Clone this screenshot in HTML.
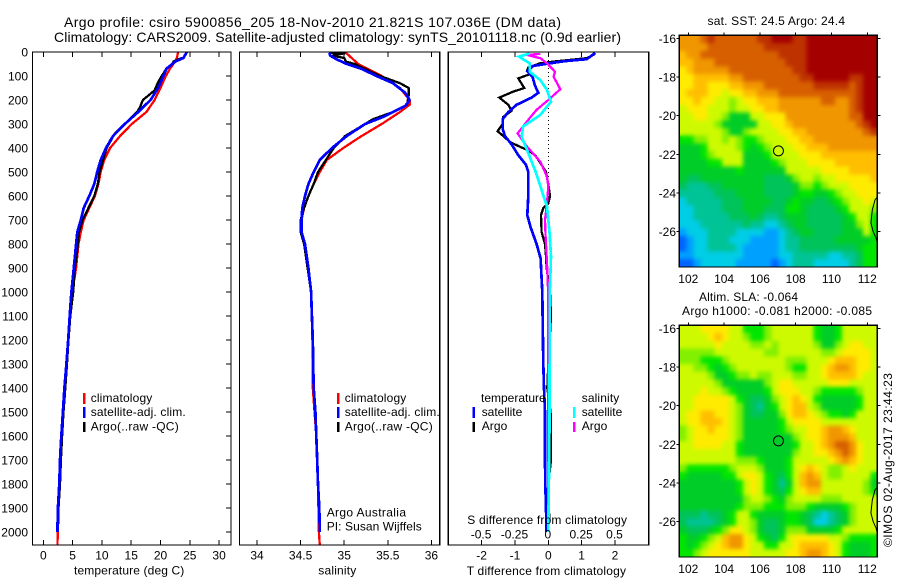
<!DOCTYPE html>
<html>
<head>
<meta charset="utf-8">
<title>Argo profile</title>
<style>
html,body{margin:0;padding:0;background:#fff}
svg{display:block}
text{font-family:"Liberation Sans",sans-serif;font-size:12px;fill:#000}
</style>
</head>
<body>
<svg id="chart" xmlns="http://www.w3.org/2000/svg" width="900" height="580" viewBox="0 0 900 580">
<defs>
<filter id="mapSmooth" x="-5%" y="-5%" width="110%" height="110%" color-interpolation-filters="sRGB">
<feGaussianBlur in="SourceGraphic" stdDeviation="2.2" result="soft"/>
<feMerge><feMergeNode in="SourceGraphic"/><feMergeNode in="soft"/></feMerge>
</filter>
<clipPath id="sstClip"><rect x="679.3" y="35.3" width="198" height="231.7"/></clipPath>
<clipPath id="slaClip"><rect x="679.3" y="325.3" width="198" height="231.7"/></clipPath>
</defs>
<rect x="0" y="0" width="900" height="580" fill="#fff"/>
<g id="marks"></g>
<text x="64" y="27" textLength="497" style="font-size:14px">Argo profile: csiro 5900856_205 18-Nov-2010 21.821S 107.036E (DM data)</text>
<text x="54" y="42" textLength="567" style="font-size:14px">Climatology: CARS2009. Satellite-adjusted climatology: synTS_20101118.nc (0.9d earlier)</text>
<text x="74" y="574.5" textLength="110.3">temperature (deg C)</text>
<text x="318.3" y="574.5" textLength="38">salinity</text>
<text x="466.7" y="575" textLength="159.3">T difference from climatology</text>
<text x="467.3" y="524" textLength="159.7">S difference from climatology</text>
<text x="90.7" y="402" textLength="61.6">climatology</text>
<text x="90.7" y="416" textLength="95">satellite-adj. clim.</text>
<text x="90.7" y="430.5" textLength="88">Argo(..raw -QC)</text>
<text x="344.7" y="402" textLength="61.6">climatology</text>
<text x="344.7" y="416" textLength="95">satellite-adj. clim.</text>
<text x="344.7" y="430.5" textLength="88">Argo(..raw -QC)</text>
<text x="326.7" y="516.5" textLength="79.3">Argo Australia</text>
<text x="326.7" y="530.5" textLength="95">PI: Susan Wijffels</text>
<text x="481" y="402" textLength="64.7">temperature</text>
<text x="481.7" y="416" textLength="40.6">satellite</text>
<text x="481.7" y="430" textLength="25.6">Argo</text>
<text x="581.7" y="402" textLength="37.6">salinity</text>
<text x="581.7" y="416" textLength="40.6">satellite</text>
<text x="581.7" y="430" textLength="25.6">Argo</text>
<text x="707.5" y="25" textLength="137.5">sat. SST: 24.5 Argo: 24.4</text>
<text x="699" y="301" textLength="99">Altim. SLA: -0.064</text>
<text x="682" y="315" textLength="190">Argo h1000: -0.081 h2000: -0.085</text>
<text transform="translate(892,547) rotate(-90)" textLength="174">©IMOS 02-Aug-2017 23:44:23</text>
</svg>
<script>
// ---------- temperature profile data (deg C) ----------
const tempClimDepth = [0,25,40,70,100,150,200,250,300,350,400,450,500,550,600,650,700,750,800,900,1000,1100,1200,1300,1400,1500,1600,1700,1800,1900,2000,2055];
const tempClimValues = [23.0,22.8,22.5,21.6,20.9,20.0,19.0,17.6,15.1,13.1,11.4,10.4,9.8,9.4,8.8,7.85,6.9,6.4,6.0,5.6,4.95,4.55,4.25,3.95,3.6,3.35,3.07,2.85,2.8,2.5,2.5,2.4];
const tempArgoDepth = [25,40,50,70,100,130,160,200,230,250,300,340,400,450,500,550,600,650,700,750,800,900,1000,1100,1200,1300,1400,1500,1600,1700,1800,1900,2000];
const tempArgoValues = [23.6,22.2,22.0,21.0,20.2,19.5,19.0,17.0,16.5,16.0,13.9,12.2,10.8,10.2,9.6,9.3,8.7,7.7,6.7,6.1,5.9,5.4,5.1,4.6,4.3,4.05,3.75,3.45,3.2,3.0,2.85,2.6,2.5];
const tempSatDepth = [0,25,40,70,100,150,200,250,300,350,400,450,500,550,600,650,700,750,800,900,1000,1100,1200,1300,1400,1500,1600,1700,1800,1900,2000];
const tempSatValues = [24.5,23.9,22.5,21.0,20.5,19.6,18.3,16.2,13.9,11.9,10.7,9.8,9.2,8.7,7.85,6.9,6.4,5.8,5.6,5.2,4.8,4.5,4.25,3.95,3.6,3.35,3.07,2.85,2.73,2.5,2.4];
// ---------- salinity profile data ----------
const salClimDepth = [0,50,100,150,200,220,250,300,350,400,450,500,550,600,650,700,750,800,900,1000,1200,1400,1600,1800,2000,2055];
const salClimValues = [35.01,35.16,35.43,35.64,35.75,35.75,35.64,35.43,35.2,34.99,34.8,34.72,34.65,34.59,34.54,34.51,34.51,34.54,34.59,34.62,34.635,34.64,34.68,34.7,34.71,34.72];
const salArgoDepth = [3,5,15,25,40,50,100,130,150,180,220,235,250,280,300,350,400,450,500,550,600,650,700,750,800,900,1000,1200,1400,1600,1800,2000];
const salArgoValues = [34.84,35.01,34.86,35.0,35.02,35.12,35.41,35.64,35.74,35.74,35.72,35.64,35.56,35.33,35.24,35.01,34.88,34.79,34.7,34.65,34.59,34.54,34.5,34.5,34.54,34.58,34.62,34.64,34.65,34.68,34.7,34.72];
const salSatDepth = [3,15,30,50,70,100,130,170,200,225,250,270,300,350,400,450,500,550,600,650,700,750,800,900,1000,1100,1200,1300,1400,1500,1600,1700,1800,1900,2000];
const salSatValues = [34.83,34.84,34.91,35.03,35.2,35.37,35.56,35.7,35.75,35.7,35.56,35.45,35.24,35.03,34.86,34.72,34.65,34.59,34.55,34.52,34.51,34.51,34.55,34.59,34.62,34.63,34.64,34.645,34.65,34.67,34.68,34.69,34.7,34.715,34.72];
// ---------- difference data ----------
const diffTArgoDepth = [8,26,40,47,55,65,75,90,110,150,165,190,220,245,270,300,330,350,375,395,410,430,460,500,550,600,630,650,680,750,800,850,900,1000,1100,1300,1400,1500,1700,1800,1950];
const diffTArgoValues = [1.4,1.15,0.15,-0.25,-0.4,-0.6,-0.63,-0.5,-0.9,-0.72,-1.05,-1.47,-1.2,-1.1,-1.35,-1.37,-1.52,-1.35,-1.15,-0.85,-0.6,-0.4,-0.25,-0.07,0,0.05,0,-0.15,-0.22,-0.2,-0.1,-0.07,-0.05,0.05,0.08,0,-0.03,0.07,0.08,0,0.03];
const diffTSatDepth = [3,10,30,38,47,58,80,105,140,170,190,220,250,280,320,350,385,430,470,500,600,680,730,800,860,1000,1100,1300,1400,1500,1700,1800,1900,2000];
const diffTSatValues = [1.4,1.35,1.15,0.5,0.05,-0.45,-0.63,-0.47,-0.4,-0.3,-0.5,-0.95,-1.2,-1.37,-1.37,-1.3,-1.1,-0.9,-0.67,-0.6,-0.6,-0.63,-0.53,-0.35,-0.23,-0.18,-0.17,-0.15,-0.13,-0.1,-0.1,-0.09,-0.07,-0.05];
const diffSArgoDepth = [8,12,26,47,82,103,155,200,242,276,339,394,457,519,561,631,700,769,880,1019,1300,1600,2000];
const diffSArgoValues = [-0.06,-0.16,-0.06,-0.01,0.05,0.04,0.09,0,-0.09,-0.14,-0.23,-0.16,-0.06,-0.01,0,-0.01,-0.025,-0.02,-0.01,0,0,0,0];
const diffSSatDepth = [6,19,47,82,117,158,207,262,311,353,408,492,575,644,756,853,1019,1300,1600,2000];
const diffSSatValues = [-0.14,-0.22,-0.14,-0.14,-0.06,-0.01,0.02,-0.06,-0.19,-0.2,-0.16,-0.1,-0.05,-0.01,0.01,0.02,0.01,0.01,0.008,0];
// ---------- tick labels ----------
const depthTicks = [0,100,200,300,400,500,600,700,800,900,1000,1100,1200,1300,1400,1500,1600,1700,1800,1900,2000];
const tempTicks = [0,5,10,15,20,25,30];
const salTicks = [34,34.5,35,35.5,36];
const diffTTicks = [-2,-1,0,1,2];
const diffSTicks = [-0.5,-0.25,0,0.25,0.5];
const lonTicks = [102,104,106,108,110,112];
const latTicks = [-16,-18,-20,-22,-24,-26];
const argoLon = 107.036;
const argoLat = -21.821;
const coastLon = [112.56,112.43,112.28,112.2,112.33,112.49,112.56];
const coastLat = [-24.2,-24.36,-24.88,-25.55,-26.0,-26.33,-26.6];
// ---------- SST map cells (colour level 0..14), north to south ----------
const sstGrid = [
[11,11,11,12,13,12,12,12,12,12,12,13,13,14,14,14,13,13,14,14,14,14,14,14,14,14,14,14],
[11,11,11,11,12,12,12,12,12,12,12,12,13,13,13,13,13,13,14,14,14,14,14,14,14,14,14,14],
[10,11,11,12,12,12,12,12,12,12,12,12,12,12,13,13,13,13,14,14,14,14,14,14,14,14,14,14],
[10,10,11,11,11,12,12,12,12,12,12,12,12,12,12,13,13,13,14,14,14,14,14,14,14,14,14,14],
[9,10,11,11,11,11,11,12,12,12,12,12,12,12,12,12,13,13,14,14,14,14,14,14,14,14,14,14],
[9,9,10,10,10,10,10,11,11,12,12,12,12,12,12,12,12,13,13,14,14,14,14,14,13,13,14,14],
[9,9,10,10,9,9,9,10,10,11,11,11,12,12,12,12,12,12,12,13,13,13,13,13,12,13,14,14],
[9,10,10,10,9,9,8,9,9,10,10,11,11,11,12,12,12,12,12,12,12,12,12,12,12,13,14,14],
[9,9,10,9,9,8,8,7,8,9,9,10,10,10,11,11,11,11,11,11,12,12,11,11,12,13,14,14],
[8,9,9,9,8,8,8,7,8,8,9,9,10,10,11,11,11,11,11,11,11,11,11,11,12,13,14,14],
[8,8,9,9,8,8,7,5,5,5,8,8,9,9,9,11,11,11,11,11,11,11,11,11,12,12,14,14],
[8,8,8,8,8,7,5,5,5,5,5,8,8,9,9,10,11,11,11,11,11,11,11,11,11,12,13,14],
[8,8,8,8,8,8,7,5,5,7,8,8,8,8,9,9,10,10,11,11,11,11,11,11,11,11,12,13],
[6,6,7,7,8,8,7,8,7,6,6,7,8,8,8,9,9,10,10,11,11,11,11,11,11,11,11,11],
[5,5,5,6,8,8,8,8,7,6,5,6,7,8,8,8,9,9,10,10,10,11,11,11,11,11,11,11],
[5,5,5,6,7,8,8,8,8,5,5,5,6,8,8,8,8,9,9,9,10,10,10,10,10,10,10,10],
[5,5,5,5,6,6,8,8,8,5,5,5,5,6,7,8,8,8,9,9,9,9,10,10,10,10,10,10],
[5,5,5,5,5,5,5,5,6,5,5,5,5,5,5,8,8,8,8,8,9,9,9,9,10,10,10,10],
[5,4,4,5,5,5,5,5,5,5,5,5,4,4,4,5,7,8,8,7,8,8,9,9,9,9,9,10],
[4,3,3,3,4,4,5,5,5,5,5,5,4,4,4,4,5,7,7,6,7,8,8,8,9,9,9,9],
[3,3,3,3,3,4,4,4,5,5,5,5,4,4,4,4,5,6,6,5,5,6,7,8,8,9,9,9],
[2,3,3,3,3,3,4,4,4,5,5,5,5,4,4,5,6,5,5,4,4,5,6,7,8,8,9,8],
[2,2,3,3,3,3,4,4,4,5,5,5,4,4,4,6,6,5,4,4,4,4,5,6,8,8,8,7],
[2,2,3,3,3,3,3,4,4,4,5,4,3,3,4,5,5,5,4,4,4,4,4,5,6,8,8,6],
[2,2,2,3,3,3,3,3,3,4,3,3,2,2,3,4,5,5,4,4,4,4,4,5,5,7,8,6],
[1,2,2,2,3,3,3,3,2,2,2,2,1,1,2,3,4,5,5,4,4,4,4,5,5,5,8,6],
[0,1,2,2,3,3,3,2,2,2,1,1,1,1,2,3,3,4,4,4,4,4,5,5,5,5,5,6],
[0,1,2,2,3,3,3,3,2,1,1,1,1,1,2,3,3,4,4,4,4,4,4,4,4,5,6,6],
[1,1,2,2,2,2,2,2,2,1,1,1,1,1,2,2,3,3,3,3,3,2,2,3,3,4,6,6],
[0,0,1,2,2,2,2,2,1,1,1,1,1,0,1,2,3,3,3,2,2,2,2,2,3,4,6,6]
];
// ---------- SLA map cells (colour level 0..14), north to south ----------
const slaGrid = [
[8,8,8,9,9,9,9,8,8,6,6,6,7,8,8,8,8,8,8,6,5,5,6,8,8,8,8,8],
[8,8,8,8,9,10,9,8,8,7,6,6,7,8,8,8,8,8,8,6,5,5,6,8,8,8,8,8],
[8,8,8,8,8,9,8,8,8,8,7,7,8,7,8,8,8,8,8,7,5,5,7,8,9,9,8,8],
[7,7,7,7,7,8,8,8,8,8,8,8,7,7,8,8,8,8,8,8,7,7,8,9,9,9,9,8],
[7,7,7,6,6,6,7,8,8,8,8,8,8,8,8,7,7,7,8,8,8,9,10,10,10,9,9,8],
[8,8,7,7,6,5,6,7,8,8,8,8,8,8,8,7,6,6,8,8,9,10,11,11,10,9,9,8],
[8,8,8,8,7,5,5,6,7,7,8,7,7,8,8,8,7,7,8,8,9,10,10,10,10,9,8,8],
[8,8,8,8,8,7,5,5,5,5,5,5,7,8,9,9,8,8,8,8,8,9,9,9,8,8,8,8],
[8,8,8,9,8,8,7,6,5,5,5,5,6,8,9,9,9,8,8,7,6,6,6,6,6,7,8,8],
[8,8,9,9,9,9,9,8,6,5,4,4,5,7,8,9,10,9,8,6,5,5,5,5,5,6,8,8],
[8,8,9,9,9,9,9,8,7,5,4,3,5,6,8,9,10,10,8,7,5,5,5,5,5,6,8,8],
[8,9,9,10,10,9,9,8,7,5,4,4,5,5,7,9,10,10,9,8,7,6,6,5,6,8,8,8],
[8,9,9,10,10,10,9,8,7,5,5,5,5,5,6,8,9,9,9,9,8,8,8,8,8,8,8,8],
[7,8,9,9,10,9,9,8,7,5,5,5,5,5,6,7,8,8,9,9,10,11,11,10,9,8,8,8],
[7,8,9,9,9,9,9,8,7,5,5,5,5,5,5,5,7,8,9,9,10,11,11,11,10,8,8,8],
[8,8,9,9,9,9,8,8,6,5,5,5,5,5,5,5,6,8,8,9,10,11,12,12,11,9,8,8],
[8,8,8,8,8,8,8,8,6,5,5,5,5,5,5,5,7,8,8,9,9,10,11,12,11,9,8,8],
[8,8,8,8,8,8,8,8,7,7,7,6,5,5,5,6,8,8,8,8,8,9,10,11,10,9,8,8],
[7,6,6,6,6,6,6,7,8,8,8,7,5,5,5,6,8,9,10,9,8,7,7,8,9,8,8,8],
[6,5,5,5,5,5,6,6,8,9,9,8,6,5,4,6,8,10,11,10,8,7,7,8,8,8,8,6],
[5,5,5,5,5,5,5,5,6,8,9,8,6,5,3,5,8,10,11,11,8,8,8,8,8,8,7,5],
[5,5,5,5,5,5,5,5,6,8,9,8,6,5,4,6,8,9,10,10,8,8,8,8,8,8,7,6],
[5,5,5,5,5,5,5,5,5,7,8,8,7,6,5,7,8,8,8,8,7,7,7,8,8,8,8,8],
[5,5,5,5,5,5,5,5,6,7,7,7,6,6,6,7,7,7,6,5,5,5,5,6,7,8,8,8],
[4,4,4,3,4,4,5,6,8,8,6,5,5,5,5,6,6,5,4,3,2,3,4,5,7,8,8,8],
[4,3,3,3,3,4,5,6,8,8,7,5,4,4,5,6,6,5,4,2,2,3,4,5,7,8,8,8],
[5,4,4,4,5,6,7,9,9,8,7,5,4,4,5,7,7,7,5,5,5,5,6,8,8,8,8,8],
[6,5,5,6,7,8,10,11,11,9,8,6,5,4,6,8,9,9,9,9,9,8,8,7,6,6,6,6],
[6,5,6,7,8,9,10,11,11,9,8,8,6,6,8,8,9,10,10,10,10,9,8,6,5,5,5,6],
[6,6,7,8,9,9,9,9,9,9,8,8,8,8,8,9,9,10,11,11,10,9,8,6,5,5,5,6]
];
const levelColors = ["#0064ff","#00a0ff","#00cde6","#00c396","#00c35a","#00cd28","#00e600","#82f000","#cdfa00","#ffeb00","#ffbe00","#f09600","#d75f00","#be3200","#a50000"];

// ---------- axis functions ----------
const NS = "http://www.w3.org/2000/svg";
const marks = document.getElementById("marks");
const yDepth = d => 52 + d * 0.24;
const xTemp = t => 43.3 + t * 5.86;
const xSal = s => 257 + (s - 34) * 87.2;
const xDiffT = t => 548.3 + t * 33.35;
const xDiffS = s => 548.3 + s * 133.4;
const xLon = lon => 688.3 + (lon - 102) * 17.9;
const latScale = 19.34;
const ySstLat = lat => 38.3 + (-16 - lat) * latScale;
const ySlaLat = lat => 328.3 + (-16 - lat) * latScale;
const lonStart = 101.5, lonStep = 0.395, latStart = -15.85, latStep = 0.399;

function mk(tag, attrs, parent) {
  const el = document.createElementNS(NS, tag);
  for (const k in attrs) el.setAttribute(k, attrs[k]);
  (parent || marks).appendChild(el);
  return el;
}
function drawAxesBox(name, l, t, r, b) {
  const el = mk("rect", {x: l, y: t, width: r - l, height: b - t, fill: "none", stroke: "#000", "stroke-width": 1.4, "shape-rendering": "crispEdges"});
  
  
}
function tickLine(x1, y1, x2, y2) {
  const el = mk("line", {x1, y1, x2, y2, stroke: "#000", "stroke-width": 1, "shape-rendering": "crispEdges"});
  
  
}
function label(txt, x, y, anchor) {
  const el = mk("text", {x, y, "text-anchor": anchor || "middle"});
  el.textContent = txt;
  
  
}
function profile(name, depths, values, xf, color, width) {
  const pts = depths.map((d, i) => xf(values[i]).toFixed(1) + "," + yDepth(d).toFixed(1)).join(" ");
  const el = mk("polyline", {points: pts, fill: "none", stroke: color, "stroke-width": width || 2.3, "stroke-linejoin": "miter", "shape-rendering": "crispEdges"});
  
  
}
function legendBar(name, x, y1, y2, color) {
  const el = mk("rect", {x: x - 1.25, y: y1, width: 2.5, height: y2 - y1, fill: color, "shape-rendering": "crispEdges"});
  
  
}
function drawMap(prefix, grid, yLat, top, bottom) {
  const clip = mk("g", {"clip-path": "url(#" + prefix + "Clip)"});
  
  
  const g = mk("g", {"shape-rendering": "crispEdges", filter: "url(#mapSmooth)"}, clip);
  
  
  grid.forEach((row, i) => {
    row.forEach((level, j) => {
      const x0 = xLon(lonStart + j * lonStep), x1 = xLon(lonStart + (j + 1) * lonStep);
      const y0 = yLat(latStart - i * latStep), y1 = yLat(latStart - (i + 1) * latStep);
      const c = mk("rect", {x: x0.toFixed(2), y: y0.toFixed(2), width: (x1 - x0 + 0.4).toFixed(2), height: (y1 - y0 + 0.4).toFixed(2), fill: levelColors[level]}, g);
      
      
    });
  });
  const coast = mk("polyline", {points: coastLon.map((lo, i) => xLon(lo).toFixed(1) + "," + yLat(coastLat[i]).toFixed(1)).join(" "), fill: "none", stroke: "#000", "stroke-width": 1});
  
  
  const marker = mk("circle", {cx: xLon(argoLon), cy: yLat(argoLat), r: 5, fill: "none", stroke: "#000", "stroke-width": 1});
  
  
  drawAxesBox(prefix + '-map-frame', 679.3, top, 877.3, bottom);
  lonTicks.forEach(lon => {
    tickLine(xLon(lon), top - 3, xLon(lon), top);
    label(String(lon), xLon(lon), bottom + 16);
  });
  latTicks.forEach(lat => {
    tickLine(676.3, yLat(lat), 679.3, yLat(lat));
    tickLine(877.3, yLat(lat), 880.3, yLat(lat));
    label(String(lat), 676, yLat(lat) + 4.5, "end");
  });
}

// ---------- temperature panel ----------
profile('temperature-climatology-line', tempClimDepth, tempClimValues, xTemp, "#ff0000");
profile('temperature-argo-line', tempArgoDepth, tempArgoValues, xTemp, "#000000");
profile('temperature-satellite-line', tempSatDepth, tempSatValues, xTemp, "#0000ff", 2.7);
drawAxesBox('temperature-panel-frame', 32.5, 52, 231, 545);
tempTicks.forEach(t => {
  tickLine(xTemp(t), 52, xTemp(t), 57);
  tickLine(xTemp(t), 540, xTemp(t), 545);
  label(String(t), xTemp(t), 559.5);
});
depthTicks.forEach(d => {
  tickLine(226, yDepth(d), 231, yDepth(d));
  label(String(d), 28, yDepth(d) + 4.5, "end");
});
legendBar('temp-legend-bar-climatology', 84, 393, 404, "#ff0000");
legendBar('temp-legend-bar-satellite', 84, 407, 418, "#0000ff");
legendBar('temp-legend-bar-argo', 84, 422, 432, "#000000");

// ---------- salinity panel ----------
profile('salinity-climatology-line', salClimDepth, salClimValues, xSal, "#ff0000");
profile('salinity-argo-line', salArgoDepth, salArgoValues, xSal, "#000000");
profile('salinity-satellite-line', salSatDepth, salSatValues, xSal, "#0000ff", 2.7);
drawAxesBox('salinity-panel-frame', 239.5, 52, 439.7, 545);
salTicks.forEach(s => {
  tickLine(xSal(s), 52, xSal(s), 57);
  tickLine(xSal(s), 540, xSal(s), 545);
  label(String(s), xSal(s), 559.5);
});
legendBar('sal-legend-bar-climatology', 338, 393, 404, "#ff0000");
legendBar('sal-legend-bar-satellite', 338, 407, 418, "#0000ff");
legendBar('sal-legend-bar-argo', 338, 422, 432, "#000000");

// ---------- difference panel ----------
const zeroLine = mk("line", {x1: xDiffT(0), y1: yDepth(0), x2: xDiffT(0), y2: yDepth(520), stroke: "#000", "stroke-width": 1, "stroke-dasharray": "1 3", "shape-rendering": "crispEdges"});


profile('t-diff-argo-line', diffTArgoDepth, diffTArgoValues, xDiffT, "#000000");
profile('t-diff-satellite-line', diffTSatDepth, diffTSatValues, xDiffT, "#0000ff", 2.7);
profile('s-diff-argo-line', diffSArgoDepth, diffSArgoValues, xDiffS, "#ff00ff");
profile('s-diff-satellite-line', diffSSatDepth, diffSSatValues, xDiffS, "#00ffff", 2.7);
drawAxesBox('difference-panel-frame', 448.3, 52, 648.7, 545);
diffTTicks.forEach(t => {
  tickLine(xDiffT(t), 52, xDiffT(t), 57);
  tickLine(xDiffT(t), 540, xDiffT(t), 545);
  label(String(t), xDiffT(t), 559.5);
});
diffSTicks.forEach(s => {
  label(String(s), xDiffS(s) - 0.5, 538.5);
});
legendBar('diff-legend-bar-t-satellite', 473.7, 407, 418, "#0000ff");
legendBar('diff-legend-bar-t-argo', 473.7, 422, 432, "#000000");
legendBar('diff-legend-bar-s-satellite', 574, 407, 418, "#00ffff");
legendBar('diff-legend-bar-s-argo', 574, 422, 432, "#ff00ff");

// ---------- maps ----------
drawMap('sst', sstGrid, ySstLat, 35.3, 267);
drawMap('sla', slaGrid, ySlaLat, 325.3, 557);
</script>
</body>
</html>
